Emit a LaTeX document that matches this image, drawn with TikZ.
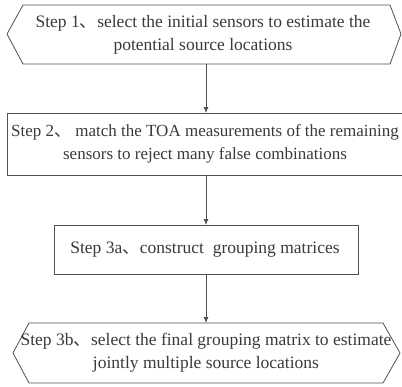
\documentclass[tikz,border=0pt]{standalone}
\usepackage{fontspec}
\setmainfont{Liberation Serif}
\newfontfamily\cjk{Noto Sans CJK SC}
\usetikzlibrary{arrows.meta}
\definecolor{ink}{HTML}{3A3A3A}
\definecolor{edge}{HTML}{505050}
\tikzset{
  outline/.style={draw=edge, line width=0.8pt},
  label/.style={text=ink, align=center, font=\fontsize{17.5}{23}\selectfont, inner sep=0pt},
  flow/.style={draw=edge, line width=0.8pt, -{Latex[length=6pt,width=5pt]}},
}
\newcommand{\dun}{{\cjk 、}}
\begin{document}
\begin{tikzpicture}[x=1pt,y=1pt]
  \useasboundingbox (0,0) rectangle (402,-386);
  % step 1 (hexagon)
  \draw[outline] (23,-5) -- (390,-5) -- (401,-34) -- (390,-64) -- (23,-64) -- (7,-34) -- cycle;
  \node[label] (s1) at (203,-35) {Step 1\dun select the initial sensors to estimate the\\potential source locations};
  \coordinate (s1b) at (206,-64);
  % step 2 (box running past the right border)
  \draw[outline] (7,-113) rectangle (410,-175);
  \node[label, font=\fontsize{17}{23}\selectfont] (s2) at (205,-144) {Step 2\dun\ match the TOA measurements of the remaining\\sensors to reject many false combinations};
  \coordinate (s2t) at (206,-113);
  \coordinate (s2b) at (206,-175);
  % step 3a
  \draw[outline] (54,-225) rectangle (358,-274);
  \node[label] (s3) at (205,-250) {Step 3a\dun construct\ \ grouping matrices};
  \coordinate (s3t) at (206,-225);
  \coordinate (s3b) at (206,-274);
  % step 3b (hexagon)
  \draw[outline] (29,-323) -- (383,-323) -- (400,-353) -- (383,-383) -- (29,-383) -- (13,-353) -- cycle;
  \node[label] (s4) at (206,-353) {Step 3b\dun select the final grouping matrix to estimate\\jointly multiple source locations};
  \coordinate (s4t) at (206,-323);
  % connectors
  \draw[flow] (s1b) -- (s2t);
  \draw[flow] (s2b) -- (s3t);
  \draw[flow] (s3b) -- (s4t);
\end{tikzpicture}
\end{document}
